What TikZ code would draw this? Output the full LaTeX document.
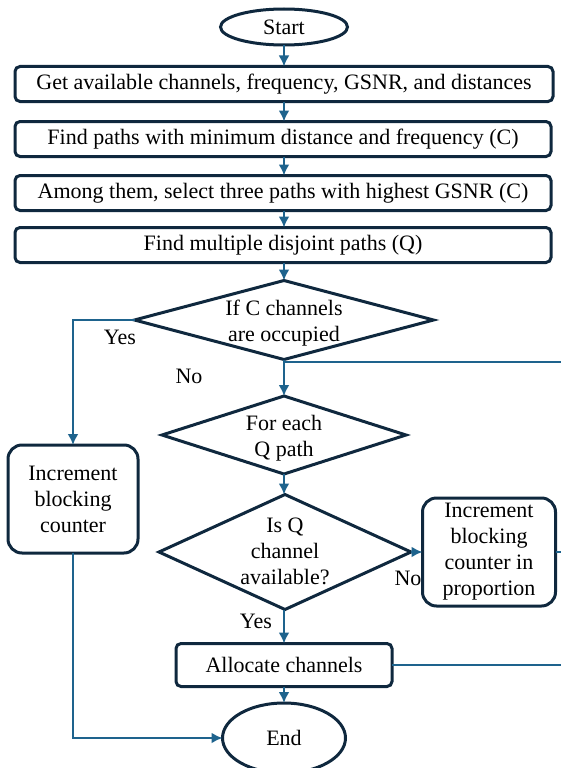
\documentclass[tikz,border=0pt]{standalone}
\usepackage{fontspec}
\setmainfont{Liberation Serif}
\definecolor{linkblue}{RGB}{30,99,141}
\definecolor{edgenavy}{RGB}{15,40,62}
\newcommand{\flowfont}{\fontsize{22}{26}\selectfont}
\usetikzlibrary{arrows.meta,positioning,shapes.geometric}

\begin{document}
\begin{tikzpicture}[x=1pt, y=-1pt,
      arr/.style={-{Latex[length=11pt,width=11pt]}, line width=2.6pt, linkblue},
      link/.style={line width=2.6pt, linkblue},
      card/.style={draw=edgenavy, line width=3pt, rounded corners=5pt,
                   inner sep=0pt, outer sep=0pt, align=center, font=\flowfont,
                   minimum height=35pt},
      tallcard/.style={card, rounded corners=14pt},
      oval/.style={draw=edgenavy, line width=3pt, ellipse, inner sep=0pt,
                   outer sep=0pt, font=\flowfont},
      choice/.style={draw=edgenavy, line width=3pt, diamond, inner sep=0pt,
                     outer sep=0pt},
      txt/.style={align=center, font=\flowfont, inner sep=0pt}
    ]
    \useasboundingbox (0,0) rectangle (561,768);
    % main column
    \node[oval, minimum width=127pt, minimum height=36pt] (start) at (284,27) {Start};
    \node[card, minimum width=538pt] (get) at (284,84)
      {Get available channels, frequency, GSNR, and distances};
    \node[card, minimum width=536pt] (find) at (283,139)
      {Find paths with minimum distance and frequency (C)};
    \node[card, minimum width=536pt] (select) at (283,193)
      {Among them, select three paths with highest GSNR (C)};
    \node[card, minimum width=536pt] (disj) at (283,245)
      {Find multiple disjoint paths (Q)};
    \node[choice, minimum width=299pt, minimum height=79pt] (occ) at (284,320) {};
    \node[txt] (occtxt) at (284,323) {If C channels\\are occupied};
    \node[choice, minimum width=244pt, minimum height=78pt] (each) at (284,435) {};
    \node[txt] (eachtxt) at (284,438) {For each\\Q path};
    \node[choice, minimum width=252pt, minimum height=115pt] (avail) at (285,552) {};
    \node[txt] (availtxt) at (285,551) {Is Q\\channel\\available?};
    \node[card, minimum width=216pt, minimum height=43pt] (alloc) at (284,665)
      {Allocate channels};
    \node[oval, minimum width=123pt, minimum height=70pt] (stop) at (284,738) {End};
    % side boxes
    \node[tallcard, minimum width=130pt, minimum height=108pt] (incr) at (73,499)
      {Increment\\blocking\\counter};
    \node[tallcard, minimum width=133pt, minimum height=108pt] (incrp) at (489,552)
      {Increment\\blocking\\counter in\\proportion};
    % labels
    \node[txt] (yes1) at (120,337) {Yes};
    \node[txt] (no1) at (189,376) {No};
    \node[txt] (no2) at (408,578) {No};
    \node[txt] (yes2) at (256,621) {Yes};
    % free ends at the right edge
    \coordinate (edge) at (561,0);
    \coordinate (join) at (284,362);

    \draw[arr] (start) -- (get);
    \draw[arr] (get.south -| start) -- (find.north -| start);
    \draw[arr] (find.south -| start) -- (select.north -| start);
    \draw[arr] (select.south -| start) -- (disj.north -| start);
    \draw[arr] (disj.south -| start) -- (occ.north);
    \draw[arr] (occ.west) -| (incr.north);
    \draw[arr] (occ.south) -- (each.north);
    \draw[link] (join) -- (join -| edge);
    \draw[arr] (each.south) -- (each.south |- avail.north);
    \draw[arr] (avail.east) -- (avail.east -| incrp.west);
    \draw[link] (incrp.east) -- (incrp.east -| edge);
    \draw[arr] (avail.south -| alloc) -- (alloc.north);
    \draw[link] (alloc.east) -- (alloc.east -| edge);
    \draw[arr] (alloc.south) -- (stop.north);
    \draw[arr] (incr.south) |- (stop.west);
  \end{tikzpicture}
\end{document}
